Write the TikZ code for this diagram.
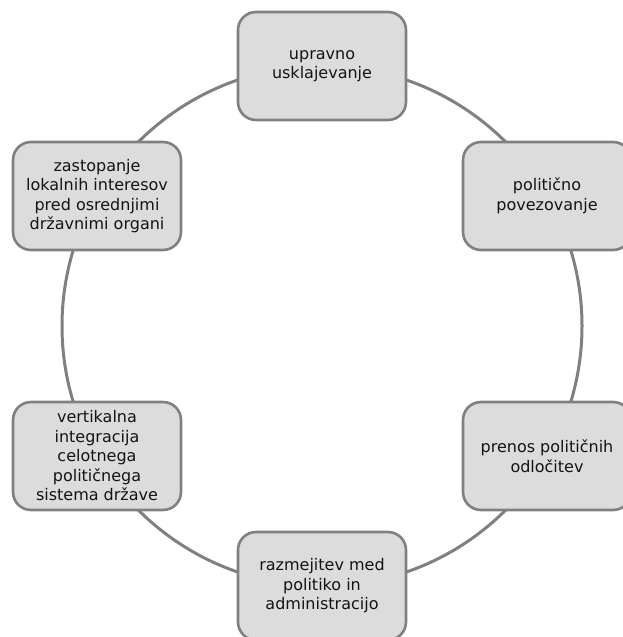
\documentclass[tikz,border=0pt]{standalone}
\usepackage{fontspec}
\setmainfont{DejaVu Sans}
\definecolor{ringgray}{RGB}{128,128,128}
\definecolor{boxfill}{RGB}{220,220,220}
\definecolor{inkdark}{RGB}{20,20,20}
\tikzset{
  ring/.style={draw=ringgray, line width=3pt},
  rolebox/.style={draw=ringgray, line width=2.6pt, fill=boxfill,
    rounded corners=18pt, minimum width=168pt, minimum height=108pt,
    align=center, text=inkdark, inner sep=4pt,
    font=\fontsize{16}{19.5}\selectfont}
}
\begin{document}
\begin{tikzpicture}[x=1pt,y=-1pt]
  \useasboundingbox (0,0) rectangle (622,637);
  \coordinate (c) at (322,326);
  % the cycle ring
  \draw[ring] (c) circle[radius=260pt];
  % six roles placed around the ring
  \node[rolebox] (upr) at (322,66) {upravno\\usklajevanje};
  \node[rolebox] (pol) at (547,196) {politično\\povezovanje};
  \node[rolebox] (pre) at (547,456) {prenos političnih\\odločitev};
  \node[rolebox] (raz) at (322,586) {razmejitev med\\politiko in\\administracijo};
  \node[rolebox] (ver) at (97,456) {vertikalna\\integracija\\celotnega\\političnega\\sistema države};
  \node[rolebox] (zas) at (97,196) {zastopanje\\lokalnih interesov\\pred osrednjimi\\državnimi organi};
\end{tikzpicture}
\end{document}
